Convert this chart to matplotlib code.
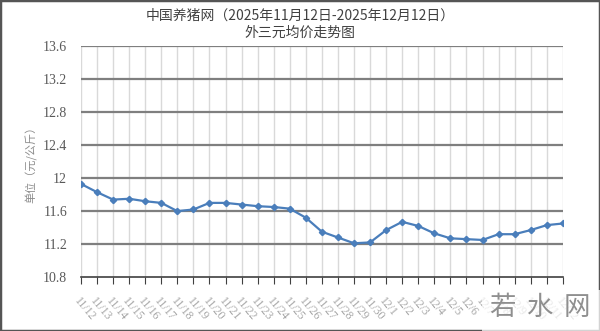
import matplotlib
matplotlib.use("Agg")
import matplotlib.pyplot as plt
import numpy as np
from matplotlib.patches import Rectangle

plt.rcParams['font.family'] = ['Noto Sans CJK SC', 'DejaVu Sans']

# 外三元均价 (元/公斤), 2025-11-12 .. 2025-12-12
dates = ['11/12', '11/13', '11/14', '11/15', '11/16', '11/17', '11/18', '11/19',
         '11/20', '11/21', '11/22', '11/23', '11/24', '11/25', '11/26', '11/27',
         '11/28', '11/29', '11/30', '12/1', '12/2', '12/3', '12/4', '12/5',
         '12/6', '12/7', '12/8', '12/9', '12/10', '12/11', '12/12']
prices = [11.93, 11.83, 11.74, 11.75, 11.72, 11.70, 11.60, 11.62,
          11.70, 11.70, 11.68, 11.66, 11.65, 11.63, 11.52, 11.35,
          11.28, 11.21, 11.22, 11.37, 11.47, 11.42, 11.33, 11.27,
          11.26, 11.25, 11.32, 11.32, 11.37, 11.43, 11.45]
yticks = [10.8, 11.2, 11.6, 12.0, 12.4, 12.8, 13.2, 13.6]
ytick_labels = ['10.8', '11.2', '11.6', '12', '12.4', '12.8', '13.2', '13.6']
watermark = ['若', '水', '网']

fig = plt.figure(figsize=(6.0, 3.31), dpi=100)
fig.patches.append(Rectangle((0, 0), 1, 1, transform=fig.transFigure,
                             fill=False, edgecolor='#555555', linewidth=2.5))
ax = fig.add_axes([0.135, 0.163, 0.803, 0.697])

x = np.arange(len(dates))
ax.plot(x, prices, color='#4a7ebb', linewidth=1.6, marker='D', markersize=3.2,
        markerfacecolor='#4a7ebb', markeredgecolor='#4a7ebb', zorder=3)

ax.set_xlim(0, len(dates) - 1)
ax.set_ylim(10.8, 13.6)
ax.set_yticks(yticks)
ax.set_yticklabels(ytick_labels, family=['Liberation Serif'], fontsize=10, color='#595959')
ax.set_xticks(x)
ax.set_xticklabels(dates, rotation=-50, ha='left', va='top', rotation_mode='anchor',
                   fontsize=8.5, color='#a6a6a6', family=['Liberation Serif'])

for xi in x:
    ax.axvline(xi, color='#d9d9d9', linewidth=1, zorder=1)
for yv in yticks[1:]:
    ax.axhline(yv, color='#7f7f7f', linewidth=1.6, zorder=2)

for s in ['top', 'right', 'left']:
    ax.spines[s].set_visible(False)
ax.spines['bottom'].set_color('#404040')
ax.spines['bottom'].set_linewidth(1.2)
ax.tick_params(axis='x', direction='out', length=5, color='#404040', pad=8)
ax.tick_params(axis='y', length=0, pad=10)

ax.set_ylabel('单位（元/公斤）', fontsize=8, color='#8c8c8c', labelpad=4)

fig.text(0.5, 0.953, '中国养猪网（2025年11月12日-2025年12月12日）', ha='center', va='center',
         fontsize=10, color='#404040')
fig.text(0.5, 0.9, '外三元均价走势图', ha='center', va='center', fontsize=10, color='#404040')

# watermark in the lower right corner
fig.patches.append(Rectangle((0.803, 0.0), 0.197, 0.125, transform=fig.transFigure,
                             facecolor='white', edgecolor='none', alpha=0.75, zorder=5))
for i, ch in enumerate(watermark):
    fig.text(0.837 + i * 0.062, 0.07, ch, ha='center', va='center', fontsize=19,
             color='#8f8f8f', zorder=6)

fig.savefig('out.png', dpi=100)
